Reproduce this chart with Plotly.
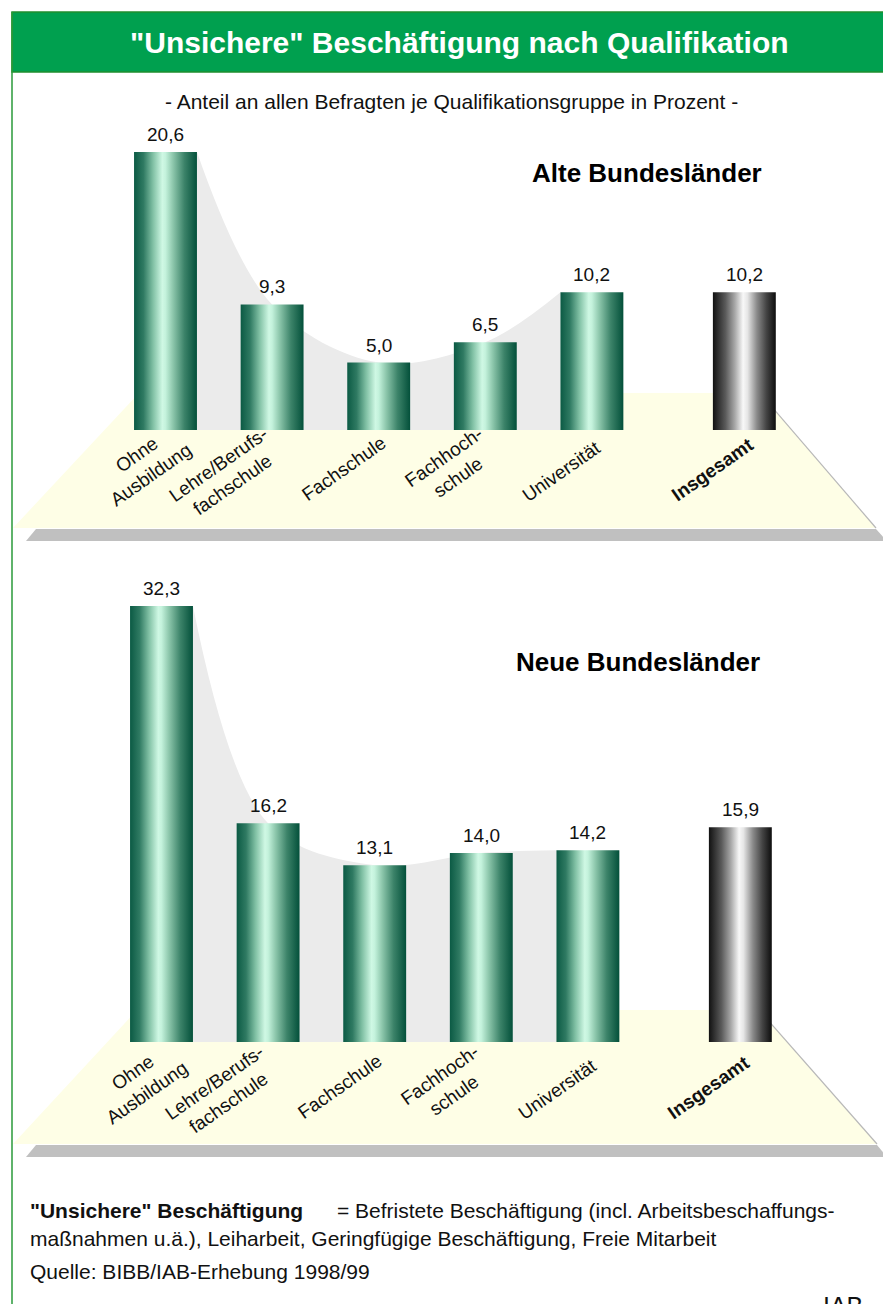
import plotly.graph_objects as go

# ---------------- data ----------------
categories = ["Ohne<br>Ausbildung", "Lehre/Berufs-<br>fachschule", "Fachschule",
              "Fachhoch-<br>schule", "Universität"]
total_label = "<b>Insgesamt</b>"
alte_values = [20.6, 9.3, 5.0, 6.5, 10.2]
alte_total = 10.2
neue_values = [32.3, 16.2, 13.1, 14.0, 14.2]
neue_total = 15.9
panel_titles = ["Alte Bundesländer", "Neue Bundesländer"]

# ---------------- layout helpers ----------------
SCREEN_W, SCREEN_H = 891, 1304
OFF = 8                      # page body margin of the browser
W, H = SCREEN_W - OFF, SCREEN_H - OFF
FONT = "Arial, Liberation Sans, sans-serif"


def px(x):
    return (x - OFF) / W


def py(y):
    return 1 - (y - OFF) / H


PX_PER_UNIT = 13.5      # vertical pixels per percent
PX_PER_CAT = 106.6      # horizontal pixels per category
BAR_W = 0.59            # bar width in category units
TOTAL_POS = 5.43        # position of the "Insgesamt" bar
LABEL_ANGLE = -35
# centre of each rotated category label relative to its bar foot (pixels)
LABEL_SHIFT = [(-22, -35), (-47, -45), (-35, -38), (-34, -37), (-31, -41), (-32, -39)]

GREEN_SCALE = [[0, '#0b5a44'], [0.15, '#2f7a62'], [0.3, '#80c0a4'], [0.45, '#cff8e4'],
               [0.5, '#c4f2dc'], [0.62, '#8cc6ab'], [0.8, '#3c8369'], [1, '#03503a']]
GRAY_SCALE = [[0, '#111111'], [0.2, '#5a5a5a'], [0.35, '#a8a8a8'], [0.48, '#f8f8f8'],
              [0.55, '#e6e6e6'], [0.7, '#8a8a8a'], [0.85, '#444444'], [1, '#0d0d0d']]

panels = [
    dict(values=alte_values, total=alte_total, title=panel_titles[0], xa='x', ya='y',
         base_px=430, top_px=130, first_px=165.5, title_xy=(647, 173), label_dy=0,
         floor=[(139, 393), (760, 393), (876, 528), (13, 528)],
         shadow=[(36, 529), (876, 529), (887, 541), (26, 541)]),
    dict(values=neue_values, total=neue_total, title=panel_titles[1], xa='x2', ya='y2',
         base_px=1042, top_px=575, first_px=161.5, title_xy=(638, 662), label_dy=-6,
         floor=[(137, 1010), (759, 1010), (877, 1144), (13, 1144)],
         shadow=[(36, 1145), (877, 1145), (887, 1157), (26, 1157)]),
]

fig = go.Figure()
shapes = []
annotations = []


def fmt(v):
    return f"{v:.1f}".replace('.', ',')


def poly_path(pts):
    return "M " + " L ".join(f"{px(a):.5f},{py(b):.5f}" for a, b in pts) + " Z"


def paper_text(x, y, text, size, color='#111111', xanchor='center', yanchor='middle'):
    return dict(x=px(x), y=py(y), xref='paper', yref='paper', text=text, showarrow=False,
                xanchor=xanchor, yanchor=yanchor,
                font=dict(family=FONT, size=size, color=color))


for p in panels:
    vals = p['values']
    pos = list(range(len(vals)))
    hw = BAR_W / 2
    # floor and its shadow
    shapes.append(dict(type='path', xref='paper', yref='paper', path=poly_path(p['shadow']),
                       fillcolor='#C0C0C0', line=dict(width=0), layer='below'))
    shapes.append(dict(type='path', xref='paper', yref='paper', path=poly_path(p['floor']),
                       fillcolor='#FEFEE6', line=dict(width=0), layer='below'))
    (x1, y1), (x2, y2) = p['floor'][1], p['floor'][2]
    shapes.append(dict(type='line', xref='paper', yref='paper', x0=px(x1), y0=py(y1),
                       x1=px(x2), y1=py(y2), line=dict(color='#B8B8B8', width=1.2),
                       layer='below'))

    # grey curved background area
    cx = [pos[0] + hw] + pos[1:-1] + [pos[-1] - hw]
    fig.add_trace(go.Scatter(x=cx, y=vals, mode='lines', line=dict(width=0, shape='spline',
                             smoothing=1.0), fill='tozeroy', fillcolor='#EBEBEB',
                             xaxis=p['xa'], yaxis=p['ya'], hoverinfo='skip', showlegend=False))

    # bars (cylinder-like gradient)
    all_pos = pos + [TOTAL_POS]
    all_vals = vals + [p['total']]
    all_cats = categories + [total_label]
    for i, (c, v) in enumerate(zip(all_pos, all_vals)):
        scale = GRAY_SCALE if i == len(all_pos) - 1 else GREEN_SCALE
        fig.add_trace(go.Scatter(
            x=[c - hw, c + hw, c + hw, c - hw, c - hw], y=[0, 0, v, v, 0],
            mode='lines', line=dict(width=0), fill='toself',
            fillgradient=dict(type='horizontal', colorscale=scale),
            xaxis=p['xa'], yaxis=p['ya'], hoverinfo='skip', showlegend=False))
        annotations.append(dict(x=c, y=v, xref=p['xa'], yref=p['ya'], text=fmt(v),
                                showarrow=False, xanchor='center', yanchor='bottom', yshift=5,
                                font=dict(family=FONT, size=19, color='#111111')))
        dx, dy = LABEL_SHIFT[i]
        annotations.append(dict(x=c, y=0, xref=p['xa'], yref=p['ya'], text=all_cats[i],
                                showarrow=False, textangle=LABEL_ANGLE, xanchor='center',
                                yanchor='middle', xshift=dx, yshift=dy + p['label_dy'],
                                align='center',
                                font=dict(family=FONT, size=19, color='#111111')))
    tx, ty = p['title_xy']
    annotations.append(paper_text(tx, ty, f"<b>{p['title']}</b>", 26, '#000000'))

# ---------------- frame & title ----------------
shapes.append(dict(type='rect', xref='paper', yref='paper', x0=px(12), x1=px(887),
                   y0=py(72), y1=py(12), fillcolor='#00A04F',
                   line=dict(color='#1f8f2f', width=1.5), layer='below'))
shapes.append(dict(type='line', xref='paper', yref='paper', x0=px(12), x1=px(12),
                   y0=py(12), y1=py(1320), line=dict(color='#2a9a3a', width=1.5)))
shapes.append(dict(type='line', xref='paper', yref='paper', x0=px(887), x1=px(887),
                   y0=py(12), y1=py(1320), line=dict(color='#2a9a3a', width=1.5)))

annotations.append(paper_text(459, 42, '<b>"Unsichere" Beschäftigung nach Qualifikation</b>',
                              30, 'white'))
annotations.append(paper_text(451, 102,
                              '- Anteil an allen Befragten je Qualifikationsgruppe in Prozent -',
                              21))

# ---------------- footer ----------------
annotations.append(paper_text(28, 1210, '<b>"Unsichere" Beschäftigung</b>', 21,
                              xanchor='left'))
annotations.append(paper_text(335, 1210,
                              '= Befristete Beschäftigung (incl. Arbeitsbeschaffungs-', 21,
                              xanchor='left'))
annotations.append(paper_text(28, 1238,
                              'maßnahmen u.ä.), Leiharbeit, Geringfügige Beschäftigung, Freie Mitarbeit',
                              21, xanchor='left'))
annotations.append(paper_text(28, 1271, 'Quelle: BIBB/IAB-Erhebung 1998/99', 21,
                              xanchor='left'))
annotations.append(paper_text(843, 1290, 'IAB', 25, yanchor='top'))

# ---------------- axes ----------------
top, bot = panels
axis_common = dict(visible=False, showgrid=False, zeroline=False, fixedrange=True)
fig.update_layout(
    width=W, height=H, margin=dict(l=0, r=0, t=0, b=0),
    paper_bgcolor='white', plot_bgcolor='rgba(0,0,0,0)',
    showlegend=False, shapes=shapes, annotations=annotations,
    xaxis=dict(domain=[0, 1], anchor='y',
               range=[-(top['first_px'] - OFF) / PX_PER_CAT,
                      (SCREEN_W - top['first_px']) / PX_PER_CAT],
               **axis_common),
    yaxis=dict(domain=[py(top['base_px']), py(top['top_px'])], anchor='x',
               range=[0, (top['base_px'] - top['top_px']) / PX_PER_UNIT], **axis_common),
    xaxis2=dict(domain=[0, 1], anchor='y2',
                range=[-(bot['first_px'] - OFF) / PX_PER_CAT,
                       (SCREEN_W - bot['first_px']) / PX_PER_CAT],
                **axis_common),
    yaxis2=dict(domain=[py(bot['base_px']), py(bot['top_px'])], anchor='x2',
                range=[0, (bot['base_px'] - bot['top_px']) / PX_PER_UNIT], **axis_common),
)

fig.write_html("out.html")
